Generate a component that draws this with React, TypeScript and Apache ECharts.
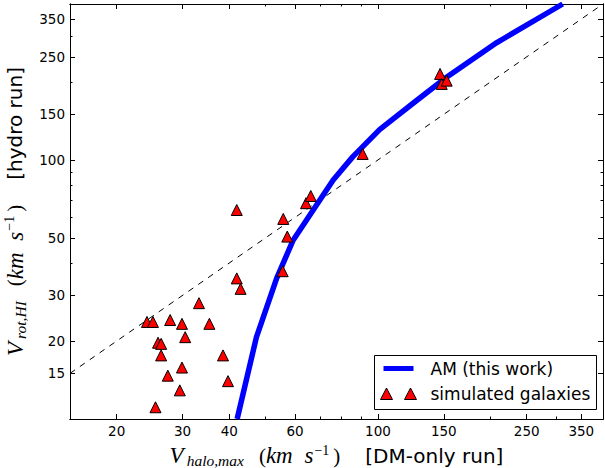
import React, { useEffect, useRef } from 'react';
import * as echarts from 'echarts';

// ---- data ----
const galaxyVhalo = [41.9, 55.8, 57.2, 55.6, 41.9, 42.9, 33.2, 35.4, 24.1, 25.0, 27.8, 29.9, 30.5, 25.8, 26.3, 26.3, 38.5, 29.9, 27.4, 39.7, 29.5, 25.4, 64.2, 66.1, 91.0, 146.6, 148.1, 152.7];
const galaxyVrot = [64.1, 59.2, 50.6, 37.2, 34.9, 31.8, 28.0, 23.3, 23.7, 23.7, 24.1, 23.3, 20.7, 19.7, 19.5, 17.6, 17.6, 15.8, 14.7, 14.0, 12.9, 11.1, 68.1, 72.6, 105.5, 214.8, 196.6, 202.4];
const amVhalo = [42.0, 47.3, 53.6, 59.3, 68.5, 75.9, 85.7, 101, 124.9, 152.9, 208, 312];
const amVrot = [10.0, 20.7, 35.0, 49.0, 67.0, 83.7, 103, 131, 166.7, 209, 284, 400];
const oneToOne = [15, 400];
const xTickLabels = [20, 30, 40, 60, 100, 150, 250, 350];
const yTickLabels = [15, 20, 30, 50, 100, 150, 250, 350];
const xMinorTicks = [20, 30, 40, 50, 60, 70, 80, 90, 100, 200, 300];
const yMinorTicks = [20, 30, 40, 50, 60, 70, 80, 90, 100, 200, 300];
const X_RANGE = [15, 400];
const Y_RANGE = [10, 400];

const serifIt = { fontFamily: 'Liberation Serif', fontStyle: 'italic', fontSize: 23, lineHeight: 24, color: '#000' };
const rich = {
  V: { ...serifIt, padding: [0, 3, 0, 0] },
  sub: { fontFamily: 'Liberation Serif', fontStyle: 'italic', fontSize: 15.5, lineHeight: 14, padding: [10, 15, 0, 0], color: '#000' },
  p: { fontFamily: 'Liberation Serif', fontSize: 21, lineHeight: 24, color: '#000' },
  it: serifIt,
  sp: { ...serifIt, padding: [0, 6, 0, 0] },
  sup: { fontFamily: 'Liberation Serif', fontSize: 14, lineHeight: 13, padding: [0, 4, 11, 1], color: '#000' },
  gap: { fontFamily: 'DejaVu Sans', fontSize: 20, lineHeight: 24, color: '#000', padding: [0, 0, 0, 25] },
};

function axis(kind: 'x' | 'y', position: string, ticks: number[], len: number, labels: number[] | null, extra: any = {}) {
  const range = kind === 'x' ? X_RANGE : Y_RANGE;
  return {
    type: 'log',
    logBase: 10,
    min: range[0],
    max: range[1],
    position,
    axisLine: { show: true, onZero: false, lineStyle: { color: '#000', width: 1 } },
    axisTick: { show: true, inside: true, length: len, customValues: ticks, lineStyle: { color: '#000', width: 1 } },
    axisLabel: labels
      ? {
          show: true,
          customValues: labels,
          formatter: (v: number) => String(Math.round(v)),
          fontFamily: 'DejaVu Sans',
          fontSize: 13.5,
          color: '#000',
          margin: 5,
        }
      : { show: false },
    splitLine: { show: false },
    minorTick: { show: false },
    minorSplitLine: { show: false },
    ...extra,
  };
}

export default function App() {
  const ref = useRef<HTMLDivElement>(null);
  useEffect(() => {
    if (!ref.current) return;
    const chart = echarts.init(ref.current, null, { renderer: 'svg' });
    const galaxies = galaxyVhalo.map((x, i) => [x, galaxyVrot[i]]);
    const am = amVhalo.map((x, i) => [x, amVrot[i]]);
    const diag = oneToOne.map((v) => [v, v]);
    chart.setOption({
      animation: false,
      backgroundColor: '#fff',
      grid: { left: 70, right: 2, top: 4, bottom: 49, containLabel: false, outerBoundsMode: 'none' },
      xAxis: [
        axis('x', 'bottom', xTickLabels, 5, xTickLabels, {
          name: '{V|V}{sub|halo,max}{p|(}{it|km}{sp| }{it|s}{sup|−1}{p|)}{gap|[DM-only run]}',
          nameLocation: 'middle',
          nameGap: 15,
          nameTextStyle: { rich },
        }),
        axis('x', 'bottom', xMinorTicks, 2.5, null),
        axis('x', 'top', xTickLabels, 5, null),
        axis('x', 'top', xMinorTicks, 2.5, null),
      ],
      yAxis: [
        axis('y', 'left', yTickLabels, 5, yTickLabels, {
          name: '{V|V}{sub|rot,HI}{p|(}{it|km}{sp| }{it|s}{sup|−1}{p|)}{gap|[hydro run]}',
          nameLocation: 'middle',
          nameGap: 39,
          nameRotate: 90,
          nameTextStyle: { rich },
        }),
        axis('y', 'left', yMinorTicks, 2.5, null),
        axis('y', 'right', yTickLabels, 5, null),
        axis('y', 'right', yMinorTicks, 2.5, null),
      ],
      graphic: [
        {
          type: 'rect',
          z: 4,
          shape: { x: 374.5, y: 355.5, width: 222, height: 54 },
          style: { fill: '#fff', stroke: '#000', lineWidth: 1 },
          silent: true,
        },
      ],
      legend: {
        left: 374,
        top: 355,
        z: 5,
        orient: 'vertical',
        padding: [5, 1, 7, 5],
        itemGap: 8,
        itemWidth: 46,
        itemHeight: 14,
        borderWidth: 0,
        backgroundColor: 'transparent',
        selectedMode: false,
        textStyle: { fontFamily: 'DejaVu Sans', fontSize: 17, color: '#000' },
        data: [
          {
            name: 'AM (this work)',
            icon: 'path://M0,0 M46,14 M4,4.5 L34,4.5 L34,9.5 L4,9.5 Z',
            itemStyle: { color: '#0000ff', borderWidth: 0 },
          },
          {
            name: 'simulated galaxies',
            icon: 'path://M0,0 M46,14 M1,13 L7,1.5 L13,13 Z M25,13 L31,1.5 L37,13 Z',
            itemStyle: { color: '#ff0000', borderColor: '#000', borderWidth: 1 },
          },
        ],
      },
      series: [
        {
          name: 'one-to-one',
          type: 'line',
          data: diag,
          symbol: 'none',
          lineStyle: { color: '#000', width: 1, type: [6, 6] },
          silent: true,
          z: 1,
        },
        {
          name: 'AM (this work)',
          type: 'line',
          data: am,
          symbol: 'none',
          lineStyle: { color: '#0000ff', width: 5.5, join: 'round' },
          itemStyle: { color: '#0000ff' },
          z: 2,
        },
        {
          name: 'simulated galaxies',
          type: 'scatter',
          data: galaxies,
          symbol: 'triangle',
          symbolSize: 11,
          itemStyle: { color: '#ff0000', borderColor: '#000', borderWidth: 1, opacity: 1 },
          z: 3,
        },
      ],
    });
    return () => chart.dispose();
  }, []);
  return <div ref={ref} style={{ position: 'fixed', left: 0, top: 0, width: 605, height: 468 }} />;
}
